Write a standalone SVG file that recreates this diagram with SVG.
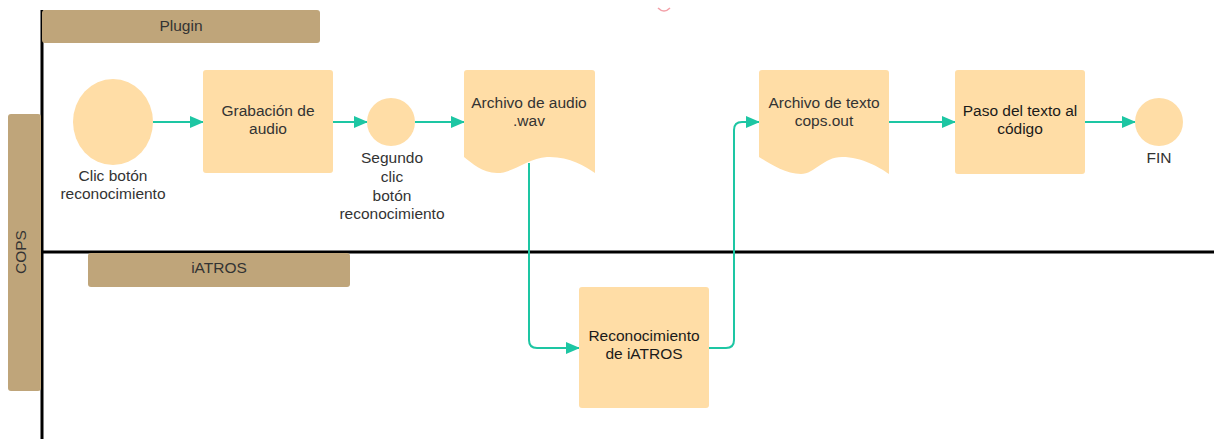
<svg xmlns="http://www.w3.org/2000/svg" width="1214" height="439" viewBox="0 0 1214 439">
<defs>
<style>
.hdr{fill:#bfa57a;}
.node{fill:#ffdda6;}
.t{font-family:"Liberation Sans",Arial,sans-serif;font-size:15.5px;fill:#333;text-anchor:middle;}
.td{fill:#1a1a1a;}
.lane{stroke:#000;stroke-width:3;fill:none;}
.c{stroke:#1dc6a3;stroke-width:2;fill:none;marker-end:url(#ah);}
</style>
<marker id="ah" markerWidth="14" markerHeight="12" refX="13" refY="6" orient="auto" markerUnits="userSpaceOnUse">
<path d="M0,0 L14,6 L0,12 Z" fill="#1dc6a3"/>
</marker>
</defs>
<rect width="1214" height="439" fill="#fff"/>
<g id="lanes">
<line class="lane" x1="42" y1="10" x2="42" y2="439"/>
<line class="lane" x1="42" y1="252" x2="1214" y2="252"/>
</g>
<g id="hdr-plugin"><rect class="hdr" x="42" y="10" width="278" height="33" rx="3"/><text class="t" x="181" y="31">Plugin</text></g>
<g id="hdr-cops"><rect class="hdr" x="8" y="114" width="33" height="277" rx="3"/><text class="t" transform="translate(26,252) rotate(-90)">COPS</text></g>
<g id="hdr-iatros"><rect class="hdr" x="88" y="253" width="262" height="34" rx="3"/><text class="t" x="219" y="273">iATROS</text></g>
<path d="M658,8 q6,6 12,0" stroke="#f3a0a8" stroke-width="1.5" fill="none"/>
<g id="connectors">
<line class="c" x1="153" y1="122" x2="203" y2="122"/>
<line class="c" x1="333" y1="122" x2="367" y2="122"/>
<line class="c" x1="415" y1="122" x2="464" y2="122"/>
<path class="c" d="M529,163 V340 Q529,348 537,348 H579"/>
<path class="c" d="M709,348 H726 Q734,348 734,340 V130 Q734,122 742,122 H759"/>
<line class="c" x1="889" y1="122" x2="955" y2="122"/>
<line class="c" x1="1085" y1="122" x2="1135" y2="122"/>
</g>
<g id="n-clic"><ellipse class="node" cx="113" cy="122" rx="40" ry="43"/><text class="t" x="113" y="181">Clic botón</text><text class="t" x="113" y="199">reconocimiento</text></g>
<g id="n-grab"><rect class="node" x="203" y="70" width="130" height="103" rx="3"/><text class="t" x="268" y="116">Grabación de</text><text class="t" x="268" y="134">audio</text></g>
<g id="n-seg"><circle class="node" cx="391" cy="122" r="24"/><text class="t" x="392" y="163">Segundo</text><text class="t" x="392" y="182">clic</text><text class="t" x="392" y="201">botón</text><text class="t" x="392" y="219">reconocimiento</text></g>
<g id="n-wav"><path class="node" d="M464,73 Q464,70 467,70 H592 Q595,70 595,73 V173 C585,166 568,156 547,157 C528,158 514,173 497,173 C482,173 472,163 464,157 Z"/><text class="t" x="529" y="108">Archivo de audio</text><text class="t" x="529" y="126">.wav</text></g>
<g id="n-rec"><rect class="node" x="579" y="287" width="130" height="121" rx="3"/><text class="t td" x="644" y="341">Reconocimiento</text><text class="t td" x="644" y="359">de iATROS</text></g>
<g id="n-out"><path class="node" d="M759,73 Q759,70 762,70 H886 Q889,70 889,73 V174 C879,167 862,157 842,157 C823,157 815,174 801,174 C785,174 769,163 759,157 Z"/><text class="t" x="824" y="108">Archivo de texto</text><text class="t" x="824" y="126">cops.out</text></g>
<g id="n-paso"><rect class="node" x="955" y="70" width="130" height="104" rx="3"/><text class="t td" x="1020" y="116">Paso del texto al</text><text class="t td" x="1020" y="134">código</text></g>
<g id="n-fin"><circle class="node" cx="1159" cy="122" r="24"/><text class="t" x="1159" y="163">FIN</text></g>
</svg>
